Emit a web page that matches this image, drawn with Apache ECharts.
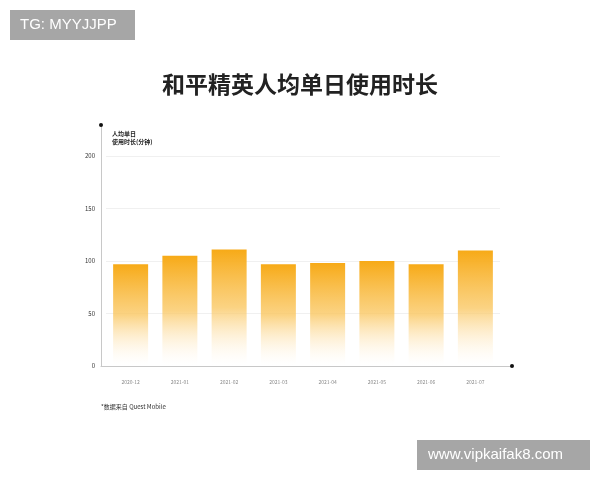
<!DOCTYPE html>
<html>
<head>
<meta charset="utf-8">
<script src="https://cdn.jsdelivr.net/npm/echarts@6/dist/echarts.min.js"></script>
<style>
  html, body { margin: 0; padding: 0; background: #fff; }
  #main { width: 600px; height: 480px; }
</style>
</head>
<body>
<div id="main"></div>
<script>
// 数据
const months = ['2020-12', '2021-01', '2021-02', '2021-03', '2021-04', '2021-05', '2021-06', '2021-07'];
const minutes = [97, 105, 111, 97, 98, 100, 97, 110];
const yTicks = [0, 50, 100, 150, 200];

const cjk = '"Noto Sans CJK SC", sans-serif';

const chart = echarts.init(document.getElementById('main'));

// 柱子渐变：上面橙色，往下变淡
const barColor = new echarts.graphic.LinearGradient(0, 0, 0, 1, [
  { offset: 0, color: '#F7AA17' },
  { offset: 0.5, color: 'rgba(250,200,100,0.8)' },
  { offset: 0.96, color: 'rgba(255,240,215,0.05)' },
  { offset: 1, color: 'rgba(255,255,255,0)' }
]);

const option = {
  backgroundColor: '#fff',
  animation: false,
  title: {
    text: '和平精英人均单日使用时长',
    left: 'center',
    top: 68,
    textStyle: { fontFamily: cjk, fontSize: 23, fontWeight: 'bold', color: '#222' }
  },
  grid: [
    // 柱子
    { left: 106, right: 100, top: 125, bottom: 114 },
    // 灰色坐标轴线
    { left: 101, right: 88, top: 125, bottom: 114 },
    // 轴端的黑点
    { left: 101, right: 88, top: 125, bottom: 114 }
  ],
  xAxis: [
    {
      gridIndex: 0,
      type: 'category',
      data: months,
      axisLine: { show: false },
      axisTick: { show: false },
      axisLabel: { fontFamily: cjk, fontSize: 5, color: '#888', margin: 14 }
    },
    {
      gridIndex: 1, type: 'value', min: 0, max: 1,
      axisLine: { lineStyle: { color: '#c8c8c8', width: 1 } },
      axisTick: { show: false }, axisLabel: { show: false }, splitLine: { show: false }
    },
    {
      gridIndex: 2, type: 'value', min: 0, max: 1,
      axisLine: { symbol: ['none', 'circle'], symbolSize: [4, 4], lineStyle: { color: '#111', width: 0 } },
      axisTick: { show: false }, axisLabel: { show: false }, splitLine: { show: false }
    }
  ],
  yAxis: [
    {
      gridIndex: 0,
      type: 'value',
      min: yTicks[0],
      max: 229.5,
      interval: 50,
      offset: 5,
      name: '人均单日\n使用时长(分钟)',
      nameLocation: 'end',
      nameGap: -21,
      nameTextStyle: {
        fontFamily: cjk, fontSize: 6, fontWeight: 'bold', color: '#222',
        align: 'left', padding: [0, 0, 0, 11], lineHeight: 8
      },
      axisLine: { show: false },
      axisTick: { show: false },
      axisLabel: {
        fontFamily: cjk, fontSize: 6, color: '#333', margin: 6,
        showMaxLabel: false,
        formatter: v => (yTicks.indexOf(v) >= 0 ? v : '')
      },
      splitLine: { showMinLine: false, showMaxLine: false, lineStyle: { color: '#f0f0f0', width: 1 } }
    },
    {
      gridIndex: 1, type: 'value', min: 0, max: 1,
      axisLine: { show: true, lineStyle: { color: '#c8c8c8', width: 1 } },
      axisTick: { show: false }, axisLabel: { show: false }, splitLine: { show: false }
    },
    {
      gridIndex: 2, type: 'value', min: 0, max: 1,
      axisLine: { show: true, symbol: ['none', 'circle'], symbolSize: [4, 4], lineStyle: { color: '#111', width: 0 } },
      axisTick: { show: false }, axisLabel: { show: false }, splitLine: { show: false }
    }
  ],
  series: [
    {
      type: 'bar',
      xAxisIndex: 0,
      yAxisIndex: 0,
      data: minutes,
      barWidth: 35,
      itemStyle: { color: barColor }
    }
  ],
  graphic: [
    {
      type: 'text',
      left: 101,
      top: 404,
      style: { text: '*数据来自 Quest Mobile', font: '6px "Noto Sans CJK SC"', fill: '#333' }
    },
    {
      type: 'group',
      left: 10,
      top: 10,
      children: [
        { type: 'rect', shape: { x: 0, y: 0, width: 125, height: 30 }, style: { fill: '#a6a6a6' } },
        { type: 'text', x: 10, y: 7, style: { text: 'TG: MYYJJPP', font: '15px "Liberation Sans"', fill: '#fff' } }
      ]
    },
    {
      type: 'group',
      left: 417,
      top: 440,
      children: [
        { type: 'rect', shape: { x: 0, y: 0, width: 173, height: 30 }, style: { fill: '#a6a6a6' } },
        { type: 'text', x: 11, y: 7, style: { text: 'www.vipkaifak8.com', font: '15px "Liberation Sans"', fill: '#fff' } }
      ]
    }
  ]
};

option && chart.setOption(option);
</script>
</body>
</html>
